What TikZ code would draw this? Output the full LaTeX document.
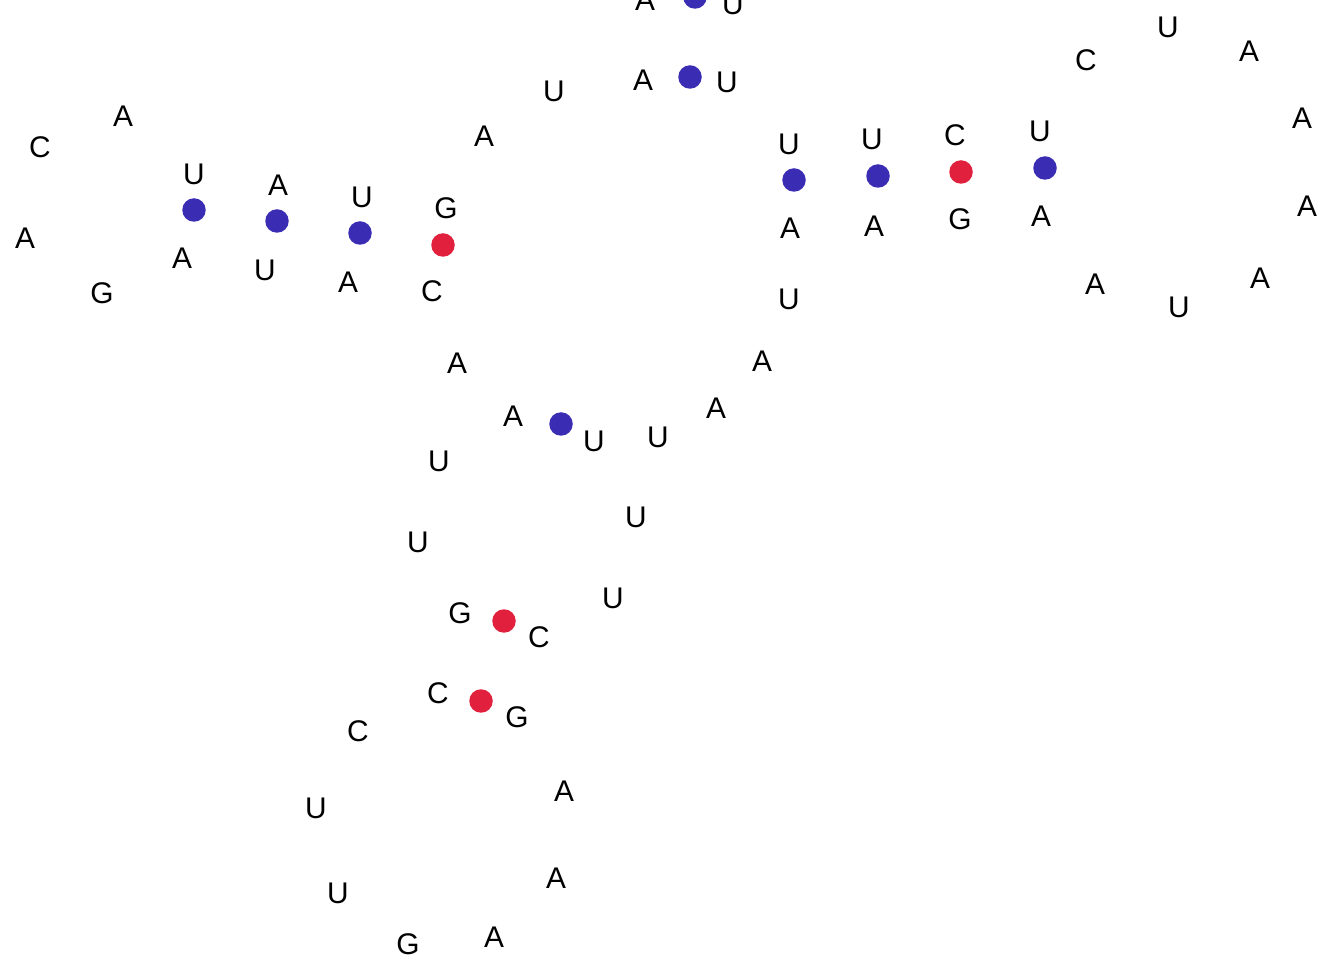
\documentclass[tikz,border=0pt]{standalone}
\usepackage{fontspec}
\setmainfont{Liberation Sans}
\usepackage{xcolor}
\usepackage{tikz}
\definecolor{pairblue}{HTML}{3A2DB4}
\definecolor{pairred}{HTML}{E0203C}

\begin{document}
\begin{tikzpicture}[
    x=0.02cm, y=-0.02cm,
    base/.style={inner sep=0pt, font=\fontsize{17}{20}\selectfont},
    au/.style={circle, fill=pairblue, inner sep=0pt, minimum size=0.47cm},
    gc/.style={circle, fill=pairred, inner sep=0pt, minimum size=0.47cm}
]
\useasboundingbox (0,0) rectangle (1339,972);
% top stem (cut off at the border)
\node[base] (t1) at (645,0) {A};
\node[au] (p0) at (695,-3) {};
\node[base] (t2) at (733,4) {U};
\node[base] (t3) at (643,80) {A};
\node[au] (p1) at (690,77) {};
\node[base] (t4) at (727,82) {U};
\node[base] (j1) at (554,91) {U};
\node[base] (j2) at (484,136) {A};
% left hairpin
\node[base] (l1) at (446,208) {G};
\node[gc] (p2) at (443,245) {};
\node[base] (l2) at (432,291) {C};
\node[base] (l3) at (362,197) {U};
\node[au] (p3) at (360,233) {};
\node[base] (l4) at (348,282) {A};
\node[base] (l5) at (278,185) {A};
\node[au] (p4) at (277,221) {};
\node[base] (l6) at (265,270) {U};
\node[base] (l7) at (194,174) {U};
\node[au] (p5) at (194,210) {};
\node[base] (l8) at (182,258) {A};
\node[base] (h1) at (123,116) {A};
\node[base] (h2) at (40,147) {C};
\node[base] (h3) at (25,238) {A};
\node[base] (h4) at (102,293) {G};
% right hairpin
\node[base] (r1) at (789,144) {U};
\node[au] (p6) at (794,180) {};
\node[base] (r2) at (790,228) {A};
\node[base] (r3) at (872,139) {U};
\node[au] (p7) at (878,176) {};
\node[base] (r4) at (874,226) {A};
\node[base] (r5) at (955,135) {C};
\node[gc] (p8) at (961,172) {};
\node[base] (r6) at (960,219) {G};
\node[base] (r7) at (1040,131) {U};
\node[au] (p9) at (1045,168) {};
\node[base] (r8) at (1041,216) {A};
\node[base] (k1) at (1086,60) {C};
\node[base] (k2) at (1168,27) {U};
\node[base] (k3) at (1249,51) {A};
\node[base] (k4) at (1302,118) {A};
\node[base] (k5) at (1307,206) {A};
\node[base] (k6) at (1260,278) {A};
\node[base] (k7) at (1179,307) {U};
\node[base] (k8) at (1095,284) {A};
% central loop
\node[base] (c1) at (789,299) {U};
\node[base] (c2) at (762,361) {A};
\node[base] (c3) at (716,408) {A};
\node[base] (c4) at (658,437) {U};
\node[base] (c5) at (594,441) {U};
\node[au] (p10) at (561,424) {};
\node[base] (c6) at (513,416) {A};
\node[base] (c7) at (457,363) {A};
% bottom stem
\node[base] (d1) at (439,461) {U};
\node[base] (d2) at (418,542) {U};
\node[base] (d3) at (636,517) {U};
\node[base] (d4) at (613,598) {U};
\node[base] (d5) at (460,613) {G};
\node[gc] (p11) at (504,621) {};
\node[base] (d6) at (539,637) {C};
\node[base] (d7) at (438,693) {C};
\node[gc] (p12) at (481,701) {};
\node[base] (d8) at (517,717) {G};
% bottom hairpin
\node[base] (b1) at (358,731) {C};
\node[base] (b2) at (316,808) {U};
\node[base] (b3) at (338,893) {U};
\node[base] (b4) at (408,944) {G};
\node[base] (b5) at (494,937) {A};
\node[base] (b6) at (556,878) {A};
\node[base] (b7) at (564,791) {A};
\end{tikzpicture}
\end{document}
